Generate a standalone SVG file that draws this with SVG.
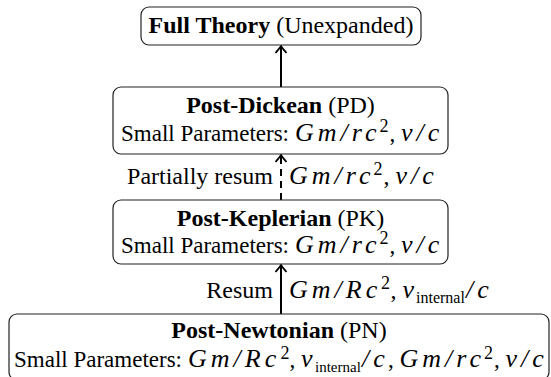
<svg xmlns="http://www.w3.org/2000/svg" width="551" height="377" viewBox="0 0 551 377">
<defs>
<style>
.box{fill:#fff;stroke:#222;stroke-width:1.2}
.t{font-family:"Liberation Serif","Times New Roman",serif;font-size:24px;fill:#000}
.s{font-size:23px}
.b{font-weight:bold}
.m{font-style:italic;font-size:26px;letter-spacing:4px}
.sub{font-size:16px}
.sub2{font-size:15px}
.sup{font-size:18px}
.edge{stroke:#000;stroke-width:2;fill:none}
.dash{stroke-dasharray:7 5}
</style>
<marker id="ah" viewBox="-9 -7 11 14" refX="0" refY="0" markerWidth="11" markerHeight="14" markerUnits="userSpaceOnUse" orient="auto">
<path d="M-7,-5.5 Q-2,-1.2 0,0 Q-2,1.2 -7,5.5" fill="none" stroke="#000" stroke-width="1.8"/>
</marker>
</defs>
<g id="connectors">
<line class="edge" x1="281" y1="87" x2="281" y2="46" marker-end="url(#ah)"/>
<line class="edge dash" x1="281" y1="200" x2="281" y2="155" marker-end="url(#ah)"/>
<line class="edge" x1="281" y1="314" x2="281" y2="265" marker-end="url(#ah)"/>
<text class="t" x="273" y="184" text-anchor="end">Partially resum</text>
<text class="t" y="184"><tspan class="m" x="289">Gm/rc</tspan><tspan class="sup" x="373.5" y="175">2</tspan><tspan x="383.5" y="184">, </tspan><tspan class="m" x="395.5">v/c</tspan></text>
<text class="t" x="273" y="298" text-anchor="end">Resum</text>
<text class="t" y="298"><tspan class="m" x="289">Gm/Rc</tspan><tspan class="sup" x="381" y="289">2</tspan><tspan x="390.5" y="298">, </tspan><tspan class="m" x="402.5">v</tspan><tspan class="sub" x="416" y="303">internal</tspan><tspan class="m" x="466" y="298">/c</tspan></text>
</g>
<g id="full">
<rect class="box" x="141" y="7" width="280" height="38" rx="8"/>
<text class="t" x="281" y="33" text-anchor="middle"><tspan class="b">Full Theory</tspan> (Unexpanded)</text>
</g>
<g id="pd">
<rect class="box" x="113" y="87" width="335" height="67" rx="8"/>
<text class="t" x="280.5" y="113" text-anchor="middle"><tspan class="b">Post-Dickean</tspan> (PD)</text>
<text class="t s" y="141"><tspan x="121">Small Parameters: </tspan><tspan class="m" x="295">Gm/rc</tspan><tspan class="sup" x="379.5" y="132">2</tspan><tspan x="389.5" y="141">, </tspan><tspan class="m" x="401">v/c</tspan></text>
</g>
<g id="pk">
<rect class="box" x="113" y="200" width="335" height="64" rx="8"/>
<text class="t" x="280.5" y="226" text-anchor="middle"><tspan class="b">Post-Keplerian</tspan> (PK)</text>
<text class="t s" y="253"><tspan x="121">Small Parameters: </tspan><tspan class="m" x="295">Gm/rc</tspan><tspan class="sup" x="379.5" y="244">2</tspan><tspan x="389.5" y="253">, </tspan><tspan class="m" x="401">v/c</tspan></text>
</g>
<g id="pn">
<rect class="box" x="9" y="314" width="540" height="66" rx="8"/>
<text class="t" x="279" y="338" text-anchor="middle"><tspan class="b">Post-Newtonian</tspan> (PN)</text>
<text class="t s" y="367"><tspan x="14">Small Parameters: </tspan><tspan class="m" x="188">Gm/Rc</tspan><tspan class="sup" x="280.5" y="359">2</tspan><tspan x="289.5" y="367">, </tspan><tspan class="m" x="301">v</tspan><tspan class="sub2" x="315" y="372">internal</tspan><tspan class="m" x="362" y="367">/c</tspan><tspan x="388">, </tspan><tspan class="m" x="399.5">Gm/rc</tspan><tspan class="sup" x="484" y="359">2</tspan><tspan x="494" y="367">, </tspan><tspan class="m" x="505.5">v/c</tspan></text>
</g>
</svg>
